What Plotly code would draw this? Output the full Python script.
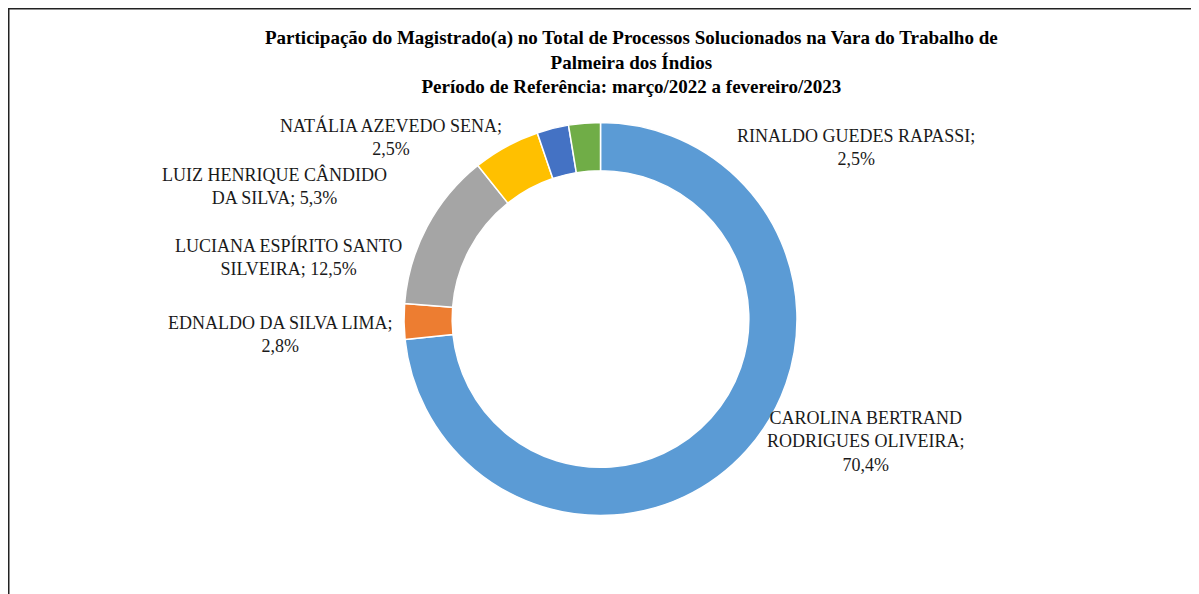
import plotly.graph_objects as go

# ---- data ----
names = [
    "CAROLINA BERTRAND RODRIGUES OLIVEIRA",
    "EDNALDO DA SILVA LIMA",
    "LUCIANA ESPÍRITO SANTO SILVEIRA",
    "LUIZ HENRIQUE CÂNDIDO DA SILVA",
    "NATÁLIA AZEVEDO SENA",
    "RINALDO GUEDES RAPASSI",
]
values = [70.4, 2.8, 12.5, 5.3, 2.5, 2.5]
colors = ["#5B9BD5", "#ED7D31", "#A5A5A5", "#FFC000", "#4472C4", "#70AD47"]

# label text layout (line-broken names and separator before the value)
label_names = [
    "CAROLINA BERTRAND<br>RODRIGUES OLIVEIRA",
    "EDNALDO DA SILVA LIMA",
    "LUCIANA ESPÍRITO SANTO<br>SILVEIRA",
    "LUIZ HENRIQUE CÂNDIDO<br>DA SILVA",
    "NATÁLIA AZEVEDO SENA",
    "RINALDO GUEDES RAPASSI",
]
label_seps = ["<br>", "<br>", " ", " ", "<br>", "<br>"]

title_lines = [
    "Participação do Magistrado(a) no Total de Processos Solucionados na Vara do Trabalho de",
    "Palmeira dos Índios",
    "Período de Referência: março/2022 a fevereiro/2023",
]

W, H = 1199, 594
OFF = 8  # page body margin offset
FONT = "Liberation Serif, Times New Roman, serif"

# label centre positions in page pixels (x, y from top)
label_px = [(866, 441), (280, 334), (288, 257), (274, 186), (391, 137), (856, 147)]

fig = go.Figure()
cx, cy, r = 600.5 - OFF, 319 - OFF, 196.5
fig.add_trace(go.Pie(
    labels=names,
    values=values,
    marker=dict(colors=colors, line=dict(color="white", width=1.5)),
    hole=0.755,
    sort=False,
    direction="clockwise",
    rotation=0,
    textinfo="none",
    hoverinfo="label+percent",
    showlegend=False,
    domain=dict(x=[(cx - r) / W, (cx + r) / W], y=[1 - (cy + r) / H, 1 - (cy - r) / H]),
))

annotations = []
for nm, sep, v, (px, py) in zip(label_names, label_seps, values, label_px):
    txt = f"{nm};{sep}{str(v).replace('.', ',')}%"
    annotations.append(dict(
        text=txt, x=(px - OFF) / W, y=1 - (py - OFF) / H, xref="paper", yref="paper",
        xanchor="center", yanchor="middle", showarrow=False, align="center",
        font=dict(family=FONT, size=18, color="#1a1a1a"),
    ))

annotations.append(dict(
    text="<b>" + "<br>".join(title_lines) + "</b>",
    x=(631 - OFF) / W, y=1 - (62 - OFF) / H, xref="paper", yref="paper",
    xanchor="center", yanchor="middle", showarrow=False, align="center",
    font=dict(family=FONT, size=19, color="#000000"),
))

fig.update_layout(
    width=W, height=H,
    margin=dict(l=0, r=0, t=0, b=0),
    paper_bgcolor="white",
    plot_bgcolor="white",
    annotations=annotations,
    shapes=[dict(type="rect", xref="paper", yref="paper",
                 x0=0.75 / W, x1=1.05, y0=-0.05, y1=1 - 0.75 / H,
                 line=dict(color="#222222", width=1.5), fillcolor="rgba(0,0,0,0)")],
)

fig.write_html("out.html")
